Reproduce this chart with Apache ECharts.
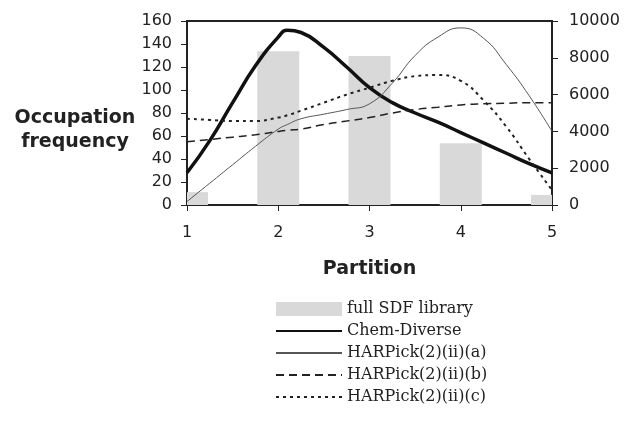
<!DOCTYPE html>
<html>
<head>
<meta charset="utf-8">
<script src="https://cdn.jsdelivr.net/npm/echarts@6/dist/echarts.min.js"></script>
<style>
  html, body { margin: 0; padding: 0; background: #fff; }
  #chart { width: 630px; height: 424px; }
</style>
</head>
<body>
<div id="chart"></div>
<script>
// partitions and values
const partitions = [1, 2, 3, 4, 5];
const sdfLibrary = [700, 8350, 8100, 3350, 550]; // right axis
const curveX = [1, 1.25, 1.5, 1.75, 2, 2.1, 2.25, 2.5, 2.75, 3, 3.25, 3.5, 3.75, 4, 4.25, 4.5, 4.75, 5];
const chemDiverse = [28, 56, 89, 121, 146, 152, 150, 137, 120, 102, 89, 80, 72, 63, 54, 45, 36, 28];
const harpickA = [3, 19, 35, 51, 66, 70, 75, 79, 83, 88, 106, 130, 146, 154, 145, 122, 95, 64];
const harpickB = [55, 57, 59, 61, 64, 65, 66, 70, 73, 76, 80, 83, 85, 87, 88, 88.5, 89, 89];
const harpickC = [75, 74, 73, 73, 76, 78, 82, 89, 96, 102, 108, 112, 113, 108, 91, 68, 40, 13];
const leftTicks = { min: 0, max: 160, interval: 20 };
const rightTicks = { min: 0, max: 10000, interval: 2000 };

const pair = (ys) => ys.map((y, i) => [curveX[i], y]);

const chart = echarts.init(document.getElementById('chart'));
const axisFont = { fontFamily: 'DejaVu Sans', fontSize: 16, color: '#222' };
const frame = { show: true, lineStyle: { color: '#222', width: 2 } };
const tick = { show: true, length: 6, lineStyle: { color: '#222' } };
const hideMarker = { color: 'rgba(0,0,0,0)', borderWidth: 0, opacity: 0 };

// bars drawn with the axis scales, then cut to the plot area
function renderBar(params, api) {
  const top = api.coord([api.value(0), api.value(1)]);
  const base = api.coord([api.value(0), 0]);
  const w = 42;
  const rect = echarts.graphic.clipRectByRect(
    { x: top[0] - w / 2, y: top[1], width: w, height: base[1] - top[1] },
    { x: params.coordSys.x, y: params.coordSys.y, width: params.coordSys.width, height: params.coordSys.height }
  );
  return rect && { type: 'rect', shape: rect, style: api.style() };
}

chart.setOption({
  animation: false,
  grid: { left: 187, right: 78, top: 21, bottom: 219, show: true, borderColor: '#222', borderWidth: 2 },
  xAxis: {
    type: 'value', min: 1, max: 5, interval: 1,
    name: 'Partition', nameLocation: 'middle', nameGap: 55,
    nameTextStyle: { fontFamily: 'DejaVu Sans', fontSize: 19, fontWeight: 'bold', color: '#222' },
    axisLine: frame, axisTick: tick,
    axisLabel: Object.assign({ margin: 20 }, axisFont),
    splitLine: { show: false }
  },
  yAxis: [
    Object.assign({
      type: 'value', position: 'left',
      axisLine: frame, axisTick: tick,
      axisLabel: Object.assign({ margin: 15 }, axisFont),
      splitLine: { show: false }
    }, leftTicks),
    Object.assign({
      type: 'value', position: 'right',
      axisLine: frame, axisTick: tick,
      axisLabel: Object.assign({ margin: 17, formatter: (v) => String(v) }, axisFont),
      splitLine: { show: false }
    }, rightTicks)
  ],
  legend: {
    orient: 'vertical', left: 270, top: 296, height: 125,
    itemWidth: 66, itemHeight: 14, itemGap: 6,
    textStyle: { fontFamily: 'DejaVu Serif', fontSize: 16, lineHeight: 14, color: '#222' },
    data: [
      { name: 'full SDF library', icon: 'rect' },
      { name: 'Chem-Diverse', itemStyle: hideMarker },
      { name: 'HARPick(2)(ii)(a)', itemStyle: hideMarker },
      { name: 'HARPick(2)(ii)(b)', itemStyle: hideMarker },
      { name: 'HARPick(2)(ii)(c)', itemStyle: hideMarker }
    ]
  },
  graphic: [{
    type: 'text', x: 75, y: 106,
    style: {
      text: 'Occupation\nfrequency', align: 'center', lineHeight: 24,
      font: 'bold 19px "DejaVu Sans"', fill: '#222'
    }
  }],
  series: [
    {
      name: 'full SDF library', type: 'custom', yAxisIndex: 1, renderItem: renderBar,
      itemStyle: { color: '#d9d9d9' },
      encode: { x: 0, y: 1 },
      data: partitions.map((p, i) => [p, sdfLibrary[i]])
    },
    {
      name: 'Chem-Diverse', type: 'line', smooth: true, symbol: 'none',
      lineStyle: { color: '#111', width: 3.5 }, itemStyle: { color: '#111' },
      data: pair(chemDiverse)
    },
    {
      name: 'HARPick(2)(ii)(a)', type: 'line', smooth: true, symbol: 'none',
      lineStyle: { color: '#555', width: 1 }, itemStyle: { color: '#555' },
      data: pair(harpickA)
    },
    {
      name: 'HARPick(2)(ii)(b)', type: 'line', smooth: true, symbol: 'none',
      lineStyle: { color: '#222', width: 1.5, type: [8, 5] }, itemStyle: { color: '#222' },
      data: pair(harpickB)
    },
    {
      name: 'HARPick(2)(ii)(c)', type: 'line', smooth: true, symbol: 'none',
      lineStyle: { color: '#222', width: 2, type: [3, 4] }, itemStyle: { color: '#222' },
      data: pair(harpickC)
    }
  ]
});
</script>
</body>
</html>
